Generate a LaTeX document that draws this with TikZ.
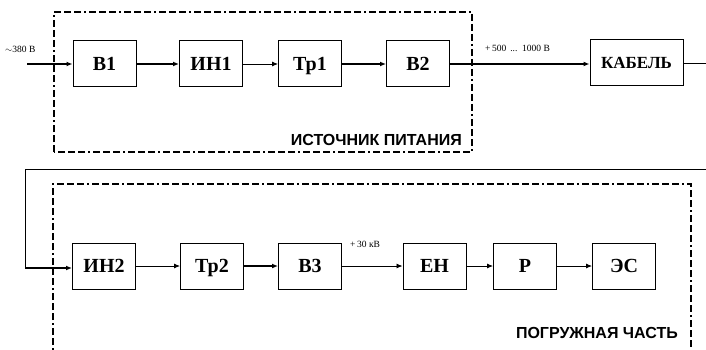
\documentclass[tikz,border=0pt]{standalone}
\usepackage{fontspec}
\setmainfont{Liberation Serif}
\setsansfont{Liberation Sans}
\usetikzlibrary{arrows.meta}
\begin{document}
\begin{tikzpicture}[x=1pt,y=-1pt,
  blk/.style={draw,line width=1pt,minimum width=63pt,minimum height=46pt,inner sep=0pt,text height=13pt,text depth=0pt,font=\fontsize{20}{20}\selectfont\bfseries},
  thk/.style={line width=2pt,-{Latex[length=6pt,width=5pt]}},
  thn/.style={line width=0.8pt,-{Latex[length=6pt,width=5pt]}},
  frame/.style={line width=1.8pt,dash pattern=on 7pt off 3pt on 7pt off 3pt on 7pt off 3pt on 2pt off 3pt},
  captext/.style={font=\sffamily\bfseries\fontsize{16}{16}\selectfont,inner sep=0pt},
  small/.style={font=\fontsize{9.5}{9}\selectfont,inner sep=0pt}]
\useasboundingbox[fill=white] (0,0) rectangle (706,350);
% frames
\draw[frame] (54,152) -- (54,12) -- (472,12) -- (472,152) -- cycle;
\draw[frame] (53,355) -- (53,184) -- (691,184) -- (691,355);
% top row
\node[blk] (b1) at (104.5,64) {B1};
\node[blk] (in1) at (211,64) {ИН1};
\node[blk] (tp1) at (310,64) {Тр1};
\node[blk] (b2) at (418,64) {B2};
\node[blk,minimum width=93pt,text height=11pt,font=\fontsize{17}{17}\selectfont\bfseries] (kab) at (636.5,63) {КАБЕЛЬ};
\coordinate (inL) at (27,64);
\coordinate (outR) at (706,63);
\draw[thk] (inL) -- (b1);
\draw[thk] (b1) -- (in1);
\draw[thn] (in1) -- (tp1);
\draw[thk] (tp1) -- (b2);
\draw[thk] (b2.east) -- (kab.west |- b2.east);
\draw[line width=0.8pt] (kab) -- (outR);
\node[small,anchor=base west] (l380) at (5,53) {$\sim$380 В};
\node[small,anchor=base west] (l500) at (485,52) {+\,500 \,...\ \ 1000 В};
\node[captext,anchor=base east] (cap1) at (462,145) {ИСТОЧНИК ПИТАНИЯ};
% bottom row
\node[blk] (in2) at (104,266) {ИН2};
\node[blk] (tp2) at (212,266) {Тр2};
\node[blk] (b3) at (310,266) {B3};
\node[blk] (en) at (434.5,266) {ЕН};
\node[blk] (p) at (525,266) {Р};
\node[blk] (es) at (624,266) {ЭС};
\coordinate (fbR) at (706,169);
\coordinate (fbC) at (25,169);
\coordinate (fbD) at (25,268);
\draw[line width=0.8pt] (fbR) -- (fbC) -- (fbD);
\draw[thk] (fbD) -- (in2.west |- fbD);
\draw[thn] (in2) -- (tp2);
\draw[thk] (tp2) -- (b3);
\draw[thn] (b3) -- (en);
\draw[thn] (en) -- (p);
\draw[thn] (p) -- (es);
\node[small,anchor=base west] (l30) at (350,247) {+\,30 кВ};
\node[captext,anchor=base east] (cap2) at (678,338) {ПОГРУЖНАЯ ЧАСТЬ};
\end{tikzpicture}
\end{document}
